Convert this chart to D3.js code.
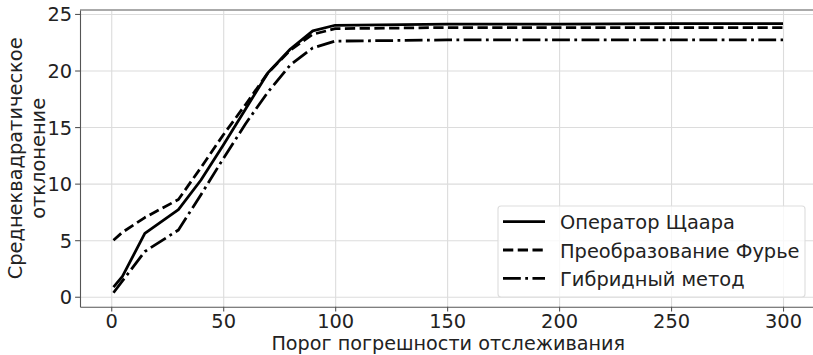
<!DOCTYPE html>
<html>
<head>
<meta charset="utf-8">
<script src="https://cdn.jsdelivr.net/npm/d3@7"></script>
<style>
  body { margin: 0; background: #fff; }
  svg text { font-family: "DejaVu Sans", sans-serif; fill: #222; }
</style>
</head>
<body>
<div id="chart"></div>
<script>
// data
var thresholds = [1, 5, 15, 30, 40, 50, 60, 70, 80, 90, 100, 150, 200, 250, 300];
var scharr  = [0.85, 1.8, 5.6, 7.7, 10.3, 13.4, 16.6, 19.8, 21.9, 23.5, 24.0, 24.1, 24.1, 24.15, 24.15];
var fourier = [5.0, 5.7, 7.0, 8.6, 11.4, 14.3, 17.0, 19.8, 21.8, 23.2, 23.7, 23.8, 23.8, 23.8, 23.8];
var hybrid  = [0.35, 1.4, 4.0, 5.9, 9.0, 12.2, 15.3, 18.1, 20.5, 22.0, 22.6, 22.7, 22.7, 22.7, 22.7];
var seriesNames = ["Оператор Щаара", "Преобразование Фурье", "Гибридный метод"];
var xTicks = [0, 50, 100, 150, 200, 250, 300];
var yTicks = [0, 5, 10, 15, 20, 25];

var svgWidth = 813;
var svgHeight = 355;
var fontSize = 19.4;

// right edge of the axes lies just past the picture
var plot = { left: 80, top: 10, right: 816.5, bottom: 306.7 };
var lw = 2.78;
var dashes = ["none", (3.7 * lw) + "," + (1.6 * lw),
  (6.4 * lw) + "," + (1.6 * lw) + "," + (1 * lw) + "," + (1.6 * lw)];

var svg = d3.select("#chart")
  .append("svg")
  .attr("width", svgWidth)
  .attr("height", svgHeight);

var xScale = d3.scaleLinear().domain([-13.95, 314.95]).range([plot.left, plot.right]);
var yScale = d3.scaleLinear().domain([-0.88, 25.35]).range([plot.bottom, plot.top]);

// grid
svg.append("g")
  .attr("transform", "translate(0," + plot.bottom + ")")
  .call(d3.axisBottom(xScale).tickValues(xTicks).tickSize(-(plot.bottom - plot.top)).tickFormat(""))
  .call(function(g) {
    g.select(".domain").remove();
    g.selectAll("line").attr("stroke", "#dcdcdc").attr("stroke-width", 1.1);
  });
svg.append("g")
  .attr("transform", "translate(" + plot.left + ",0)")
  .call(d3.axisLeft(yScale).tickValues(yTicks).tickSize(-(plot.right - plot.left)).tickFormat(""))
  .call(function(g) {
    g.select(".domain").remove();
    g.selectAll("line").attr("stroke", "#dcdcdc").attr("stroke-width", 1.1);
  });

// lines
var lineGen = d3.line()
  .x(function(d) { return xScale(d[0]); })
  .y(function(d) { return yScale(d[1]); });

[scharr, fourier, hybrid].forEach(function(vals, i) {
  svg.append("path")
    .datum(thresholds.map(function(t, j) { return [t, vals[j]]; }))
    .attr("d", lineGen)
    .attr("fill", "none")
    .attr("stroke", "#000")
    .attr("stroke-width", lw)
    .attr("stroke-linejoin", "round")
    .attr("stroke-dasharray", dashes[i]);
});

// top spine
svg.append("line")
  .attr("x1", plot.left).attr("x2", plot.right)
  .attr("y1", plot.top).attr("y2", plot.top)
  .attr("stroke", "#aaa").attr("stroke-width", 2);

// axes
var xAxis = svg.append("g")
  .attr("transform", "translate(0," + plot.bottom + ")")
  .call(d3.axisBottom(xScale).tickValues(xTicks).tickSize(4.9).tickPadding(2.2).tickSizeOuter(0));
var yAxis = svg.append("g")
  .attr("transform", "translate(" + plot.left + ",0)")
  .call(d3.axisLeft(yScale).tickValues(yTicks).tickSize(4.9).tickPadding(3).tickSizeOuter(0));

[xAxis, yAxis].forEach(function(g) {
  g.select(".domain").attr("stroke", "#555").attr("stroke-width", 1.1);
  g.selectAll(".tick line").attr("stroke", "#555").attr("stroke-width", 1.1);
  g.selectAll(".tick text").attr("font-size", fontSize).attr("fill", "#222")
    .attr("font-family", "DejaVu Sans");
});
yAxis.selectAll(".tick text").attr("dy", "0.36em");

// axis labels
svg.append("text")
  .attr("x", (plot.left + plot.right) / 2)
  .attr("y", 350.3)
  .attr("text-anchor", "middle")
  .attr("font-size", 19.2)
  .text("Порог погрешности отслеживания");

var yLabel = svg.append("text")
  .attr("transform", "translate(21.5," + ((plot.top + plot.bottom) / 2) + ")rotate(-90)")
  .attr("text-anchor", "middle")
  .attr("font-size", fontSize);
yLabel.append("tspan").attr("x", 0).attr("y", 0).text("Среднеквадратическое");
yLabel.append("tspan").attr("x", 0).attr("y", 23.3).text("отклонение");

// legend
var legend = svg.append("g");
legend.append("rect")
  .attr("x", 498).attr("y", 206)
  .attr("width", 307).attr("height", 91)
  .attr("rx", 3)
  .attr("fill", "#fff").attr("fill-opacity", 0.8)
  .attr("stroke", "#ddd").attr("stroke-width", 1.1);

seriesNames.forEach(function(name, i) {
  var cy = 221.7 + i * 28.3;
  legend.append("line")
    .attr("x1", 503).attr("x2", 545)
    .attr("y1", cy).attr("y2", cy)
    .attr("stroke", "#000").attr("stroke-width", lw)
    .attr("stroke-dasharray", dashes[i]);
  legend.append("text")
    .attr("x", 560).attr("y", cy + 7.5)
    .attr("font-size", fontSize)
    .text(name);
});
</script>
</body>
</html>
